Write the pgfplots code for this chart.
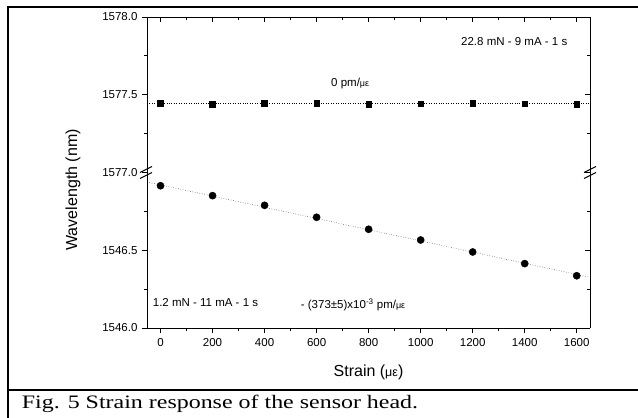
\documentclass[border=0pt]{standalone}
\usepackage{fontspec}
\setmainfont{Liberation Sans}
\newfontfamily\capfont{Liberation Serif}
\usepackage{graphicx}
\usepackage{pgfplots}
\pgfplotsset{compat=1.18}
\usepackage{pgfplotstable}

% upper segment (squares), 22.8 mN
\pgfplotstableread{
x y
0 1577.445
200 1577.438
400 1577.444
600 1577.445
800 1577.440
1000 1577.442
1200 1577.444
1400 1577.443
1600 1577.441
}\toptable
% lower segment (circles), 1.2 mN
\pgfplotstableread{
x y
0 1546.915
200 1546.851
400 1546.789
600 1546.712
800 1546.635
1000 1546.566
1200 1546.489
1400 1546.414
1600 1546.336
}\bottable
\pgfplotstableread{
x y
-52 1577.443
1651 1577.443
}\topfit
\pgfplotstableread{
x y
-52 1546.939
1651 1546.326
}\botfit

\newcommand{\muesmall}{{\fontsize{9}{10}\selectfont με}}
\newcommand{\muebig}{{\fontsize{12.5}{14}\selectfont με}}

\begin{document}
\begin{tikzpicture}
\useasboundingbox (0pt,0pt) rectangle (638pt,418pt);
% frame
\draw[line width=2pt] (7.5pt,0pt) -- (7.5pt,411pt) -- (638pt,411pt);
\draw[line width=2pt] (6.5pt,28pt) -- (638pt,28pt);
\node[anchor=base west, inner sep=0pt] at (21.7pt,9.5pt)
  {\scalebox{1.26}[1]{\fontsize{19}{22}\selectfont\capfont Fig. 5 Strain response of the sensor head.}};

\begin{axis}[
  at={(147pt,90pt)}, anchor=south west,
  width=443pt, height=311pt, scale only axis,
  xmin=-52, xmax=1651, ymin=0, ymax=2,
  axis x line*=bottom, axis y line*=left,
  tick align=outside,
  axis line style={line width=0.9pt},
  every tick/.style={black, line width=0.9pt},
  major tick length=5pt, minor tick length=3pt,
  xtick={0,200,400,600,800,1000,1200,1400,1600},
  xticklabels={0,200,400,600,800,1000,1200,1400,1600},
  minor xtick={100,300,500,700,900,1100,1300,1500},
  ytick={0,0.5,1,1.5,2},
  yticklabels={1546.0,1546.5,1577.0,1577.5,1578.0},
  minor ytick={0.25,0.75,1.25,1.75},
  /pgf/number format/assume math mode=true,
  ticklabel style={font=\fontsize{11.5}{13}\selectfont},
  yticklabel style={xshift=-1pt},
  xticklabel style={yshift=-2pt},
  xlabel={Strain (\muebig)},
  ylabel={Wavelength (nm)},
  label style={font=\fontsize{16}{18}\selectfont},
  xlabel style={at={(axis description cs:0.5,-0.142)}, anchor=center},
  ylabel style={at={(axis description cs:-0.167,0.444)}, anchor=center},
  clip=false,
]
\addplot[black, dotted, line width=0.45pt] table[y expr=\thisrow{y}-1576] {\topfit};
\addplot[black, dotted, line width=0.45pt] table[y expr=\thisrow{y}-1546] {\botfit};
\addplot[only marks, mark=square*, mark size=2.9pt, black] table[y expr=\thisrow{y}-1576] {\toptable};
\addplot[only marks, mark=*, mark size=3.6pt, black] table[y expr=\thisrow{y}-1546] {\bottable};
\end{axis}

\begin{axis}[
  at={(147pt,90pt)}, anchor=south west,
  width=443pt, height=311pt, scale only axis,
  xmin=-52, xmax=1651, ymin=0, ymax=2,
  axis x line*=top, axis y line*=right,
  tick align=inside,
  axis line style={line width=0.9pt},
  every tick/.style={black, line width=0.9pt},
  major tick length=5pt, minor tick length=3pt,
  xtick={0,200,400,600,800,1000,1200,1400,1600},
  minor xtick={100,300,500,700,900,1100,1300,1500},
  ytick={0,0.5,1,1.5,2},
  minor ytick={0.25,0.75,1.25,1.75},
  xticklabels={}, yticklabels={},
]
\end{axis}

% axis break marks
\foreach \bx in {146,590}{
  \draw[line width=0.9pt] (\bx pt-6pt,245.5pt) -- (\bx pt+6pt,251.5pt);
  \draw[line width=0.9pt] (\bx pt-6pt,239.5pt) -- (\bx pt+6pt,245.5pt);
}

% annotations
\begin{scope}[every node/.style={anchor=west, inner sep=0pt, font=\fontsize{11.5}{13}\selectfont}]
\node at (461pt,376.5pt) {22.8 mN - 9 mA - 1 s};
\node at (331pt,334pt) {0 pm/\muesmall};
\node at (152.7pt,115.7pt) {1.2 mN - 11 mA - 1 s};
\node at (300.7pt,113pt) {- (373±5)x10\textsuperscript{-3} pm/\muesmall};
\end{scope}
\end{tikzpicture}
\end{document}
